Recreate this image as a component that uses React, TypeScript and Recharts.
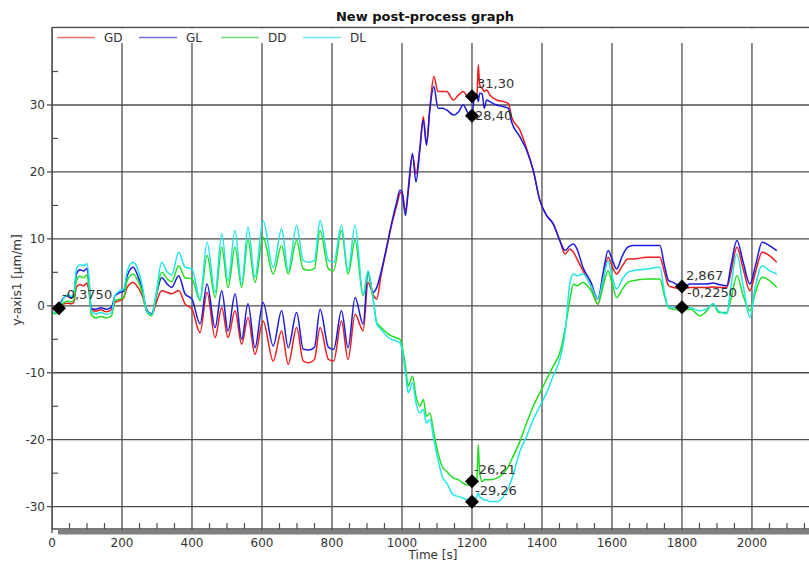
import React from 'react';
import { LineChart, Line, XAxis, YAxis, ReferenceLine, ReferenceDot } from 'recharts';

const times = [
  0, 10, 20, 30, 45, 55, 62, 70, 80, 90, 100, 106, 112, 125, 140, 155, 170, 180, 195,
  205, 215, 232, 245, 258, 270, 285, 298, 313, 330, 342, 362, 380, 400,
  423, 443, 466, 485, 503, 523, 542, 560, 580, 603, 632, 656, 675, 699, 718, 735, 750,
  766, 790, 805, 827, 846, 866, 889, 903, 917, 928, 940, 956, 970, 985, 994,
  1000, 1010, 1018, 1030, 1040, 1051, 1061, 1070, 1080, 1091, 1103, 1115, 1128, 1147,
  1162, 1175, 1189, 1200, 1208, 1214, 1218, 1222, 1229, 1235, 1242, 1251, 1271, 1290,
  1304, 1313, 1337, 1356, 1375, 1394, 1413, 1432, 1451, 1466, 1480, 1490, 1500, 1517,
  1540, 1560, 1575, 1589, 1600, 1613, 1630, 1645, 1660, 1700, 1737, 1750, 1762, 1775,
  1800, 1825, 1851, 1870, 1889, 1905, 1928, 1940, 1957, 1975, 1994, 2010, 2029, 2050, 2071,
];

const gd = [
  -0.5, -0.6, -0.375, 0.2, 0.4, 0.3, 0.5, 2.8, 3.2, 3.0, 3.4, 2.0, -0.5, -0.8, -0.6, -0.9, -0.5, 0.5, 0.8,
  1.2, 2.8, 3.5, 2.8, 1.5, -0.5, -1.3, 0.5, 2.25, 2.0, 1.8, 2.3, 0.3, -0.5,
  -4.0, 2.0, -4.75, -0.25, -4.75, -0.75, -5.75, -1.75, -7.25, -2.25, -8.25, -3.75, -8.75, -3.25, -8.25, -8.5, -8.0,
  -3.25, -8.0, -8.25, -2.25, -8.0, -1.25, -3.75, 3.5, 1.75, 1.0, 4.5, 8.5, 12.0, 15.0, 16.75,
  17.0, 14.25, 17.0, 22.5, 19.75, 23.5, 28.25, 24.3, 29.75, 34.25, 32.0, 32.0, 32.0, 30.75,
  31.5, 32.0, 31.25, 31.3, 31.3, 31.0, 36.0, 33.0, 32.5, 32.0, 32.25, 31.5, 30.75, 30.5,
  30.25, 28.25, 26.25, 23.5, 20.25, 15.75, 13.5, 12.25, 9.75, 7.75, 8.5, 8.0, 7.0, 5.25,
  3.0, 0.25, 4.0, 7.25, 6.0, 4.75, 6.0, 7.0, 7.0, 7.25, 7.25, 5.0, 3.0, 2.75,
  2.6, 2.75, 2.75, 2.75, 2.8, 2.75, 2.75, 5.0, 8.75, 5.5, 2.25, 5.0, 8.0, 7.5, 6.5,
];

const gl = [
  -0.3, -0.4, -0.2, 1.0, 1.5, 1.2, 1.5, 4.8, 5.4, 5.2, 5.6, 3.5, -0.4, -0.5, -0.3, -0.5, -0.2, 1.5, 2.0,
  2.2, 4.5, 5.75, 4.5, 2.5, -0.5, -1.2, 1.5, 4.2, 3.2, 2.75, 4.5, 1.8, 1.0,
  -2.7, 3.25, -3.25, 2.25, -3.75, 1.75, -5.0, 0.3, -6.25, 0.5, -6.0, -0.75, -6.25, -1.0, -6.5, -6.6, -6.2,
  -0.5, -6.2, -6.5, -0.75, -6.25, 1.25, -2.75, 5.0, 2.0, 2.75, 5.0, 8.75, 12.25, 15.5, 17.25,
  17.0, 13.5, 17.5, 22.75, 18.5, 23.25, 27.75, 24.0, 29.5, 32.75, 29.5, 29.5, 29.25, 28.5,
  29.0, 30.0, 28.75, 28.4, 31.75, 31.5, 30.5, 31.75, 31.7, 29.5, 30.75, 30.5, 30.0, 29.75,
  29.5, 27.5, 25.25, 23.25, 20.25, 15.75, 13.5, 12.25, 9.75, 8.25, 9.0, 9.25, 8.5, 5.75,
  3.5, 1.0, 5.0, 8.25, 7.0, 5.5, 7.5, 8.75, 9.0, 9.0, 9.0, 6.0, 3.75, 3.5,
  2.867, 3.25, 3.25, 3.25, 3.4, 3.2, 3.0, 6.0, 9.75, 6.5, 3.25, 6.0, 9.5, 9.0, 8.25,
];

const dd = [
  -1.0, -1.2, -0.9, 0.3, 0.7, 0.6, 0.8, 3.8, 4.4, 4.2, 4.6, 2.5, -1.3, -1.8, -1.6, -1.8, -1.5, 0.8, 1.0,
  1.3, 3.8, 4.75, 3.8, 2.0, -0.8, -1.5, 1.5, 5.0, 4.0, 3.6, 6.0, 4.2, 4.0,
  0.8, 7.5, 1.25, 8.75, 2.75, 8.75, 2.75, 9.75, 3.5, 10.25, 4.75, 9.0, 4.75, 9.75, 5.5, 5.3, 5.6,
  11.25, 5.5, 5.25, 11.25, 4.75, 9.75, 1.5, 4.75, 1.25, -2.5, -3.2, -4.0, -4.5, -4.8, -5.0,
  -6.0, -9.0, -12.0, -10.5, -13.5, -15.0, -14.0, -16.5, -16.0, -19.0, -22.0, -24.0, -24.75, -25.75,
  -26.0, -26.5, -26.8, -26.21, -26.5, -26.0, -20.75, -25.0, -26.25, -26.0, -26.0, -26.0, -25.75, -25.0,
  -24.0, -23.0, -20.25, -17.5, -15.0, -13.0, -11.0, -9.0, -7.0, -3.5, 1.0, 3.25, 3.0, 3.5,
  2.3, 0.3, 3.0, 5.25, 3.5, 1.25, 2.5, 3.5, 3.75, 4.0, 4.0, 1.5, -0.3, -0.5,
  -0.6, -0.5, -1.5, -0.8, 0.3, -1.0, -1.0, 1.0, 4.5, 1.5, -0.75, 2.0, 4.25, 3.75, 2.75,
];

const dl = [
  -0.8, -1.0, -0.6, 0.8, 1.7, 1.4, 1.8, 5.6, 6.1, 6.0, 6.3, 4.0, -0.8, -1.2, -1.0, -1.3, -1.0, 1.5, 2.3,
  2.5, 5.2, 6.5, 5.5, 3.0, -0.6, -1.3, 2.0, 6.5, 5.0, 4.6, 8.0, 5.8, 5.5,
  1.0, 9.5, 2.0, 10.75, 3.75, 11.25, 3.25, 11.75, 4.25, 12.75, 5.75, 11.5, 5.25, 12.0, 6.75, 6.5, 6.8,
  12.75, 6.8, 6.5, 12.0, 5.25, 12.0, 1.75, 5.25, 1.25, -2.75, -3.5, -4.5, -5.0, -5.3, -5.5,
  -6.5, -10.0, -13.0, -11.5, -14.5, -16.0, -15.5, -17.5, -17.0, -20.0, -23.0, -25.5, -26.5, -28.25,
  -28.5, -28.75, -29.0, -29.26, -29.0, -28.5, -28.0, -28.5, -28.75, -29.0, -29.0, -29.25, -29.25, -28.5,
  -27.25, -26.0, -21.75, -19.5, -17.0, -15.0, -13.0, -10.5, -8.0, -4.0, 3.5, 4.75, 4.5, 4.75,
  3.0, 1.0, 4.0, 6.75, 4.5, 2.5, 4.0, 5.0, 5.25, 5.5, 5.75, 2.0, -0.2, -0.25,
  -0.225, -0.3, -0.75, -0.5, 0.3, -0.8, -1.2, 3.0, 7.75, 3.0, -1.75, 3.0, 6.0, 5.25, 4.75,
];

const seriesNames = ['GD', 'GL', 'DD', 'DL'];
const seriesColors = ['#ee1c1c', '#1a1ae0', '#22dd22', '#22e6e6'];
const legendColors = ['#f07070', '#7070e0', '#70e070', '#70eaea'];

const xMajorTicks = [0, 200, 400, 600, 800, 1000, 1200, 1400, 1600, 1800, 2000];
const xMinorTicks = [50, 100, 150, 250, 300, 350, 450, 500, 550, 650, 700, 750, 850, 900, 950,
  1050, 1100, 1150, 1250, 1300, 1350, 1450, 1500, 1550, 1650, 1700, 1750, 1850, 1900, 1950, 2050, 2100, 2150];
const yMajorTicks = [-30, -20, -10, 0, 10, 20, 30];
const yMinorTicks = [-25, -15, -5, 5, 15, 25, 35];

const markerTimes = [20, 1200, 1200, 1200, 1200, 1800, 1800];
const markerValues = [-0.375, 31.30, 28.40, -26.21, -29.26, 2.867, -0.225];
const markerTexts = ['-0,3750', '31,30', '28,40', '-26,21', '-29,26', '2,867', '-0,2250'];

const title = 'New post-process graph';
const xLabel = 'Time [s]';
const yLabel = 'y-axis1 [µm/m]';

// label offsets (style only)
const markerLabelOffsets = [
  [3, -9], [5, -8], [3, 4], [2, -7], [3, -7], [4, -7], [5, -10],
];

const X_DOMAIN: [number, number] = [0, 2163];
const Y_DOMAIN: [number, number] = [-33.34, 41.65];
const FONT = '"DejaVu Sans", Verdana, sans-serif';
const GRID = '#4d4d4d';

const data = times.map((t, i) => ({ t, GD: gd[i], GL: gl[i], DD: dd[i], DL: dl[i] }));
const xTicks = [...xMajorTicks, ...xMinorTicks].sort((a, b) => a - b);
const yTicks = [...yMajorTicks, ...yMinorTicks].sort((a, b) => a - b);

const XTick = (props: any) => {
  const { x, y, payload } = props;
  const v = payload.value;
  if (xMajorTicks.includes(v)) {
    return (
      <g>
        <line x1={x} x2={x} y1={y} y2={y + 4} stroke={GRID} strokeWidth={1.3} />
        <text x={x} y={y + 18} textAnchor="middle" fontSize={12} fill="#333" fontFamily={FONT}>{v}</text>
      </g>
    );
  }
  return <line x1={x} x2={x} y1={y} y2={y - 6} stroke={GRID} strokeWidth={1.2} />;
};

const YTick = (props: any) => {
  const { x, y, payload } = props;
  const v = payload.value;
  if (yMajorTicks.includes(v)) {
    return (
      <g>
        <line x1={x - 5} x2={x} y1={y} y2={y} stroke={GRID} strokeWidth={1.3} />
        <text x={x - 7} y={y} dy={4.2} textAnchor="end" fontSize={12} fill="#333" fontFamily={FONT}>{v}</text>
      </g>
    );
  }
  return <line x1={x} x2={x + 6} y1={y} y2={y} stroke={GRID} strokeWidth={1.2} />;
};

const makeMarker = (i: number) => (props: any) => {
  const { cx, cy } = props;
  const [dx, dy] = markerLabelOffsets[i];
  const s = 7;
  return (
    <g>
      <path d={`M${cx},${cy - s} L${cx + s},${cy} L${cx},${cy + s} L${cx - s},${cy} Z`} fill="#000" />
      <text x={cx + dx} y={cy + dy} fontSize={13} fill="#333" fontFamily={FONT}>{markerTexts[i]}</text>
    </g>
  );
};

export default function App() {
  return (
    <div style={{ position: 'absolute', left: 0, top: 0, width: 809, height: 562, background: '#fff', fontFamily: FONT }}>
      <LineChart width={809} height={562} data={data} margin={{ top: 27, right: 0, bottom: 0, left: 0 }}>
        {xMajorTicks.map((t) => (
          <ReferenceLine key={'gx' + t} x={t} stroke={GRID} strokeWidth={1.3} ifOverflow="hidden" />
        ))}
        {yMajorTicks.map((v) => (
          <ReferenceLine key={'gy' + v} y={v} stroke={GRID} strokeWidth={1.3} ifOverflow="hidden" />
        ))}
        <XAxis
          dataKey="t"
          type="number"
          domain={X_DOMAIN}
          allowDataOverflow
          ticks={xTicks}
          interval={0}
          tick={<XTick />}
          tickLine={false}
          tickSize={0}
          tickMargin={0}
          height={33}
          axisLine={{ stroke: GRID, strokeWidth: 1.5 }}
        />
        <YAxis
          type="number"
          domain={Y_DOMAIN}
          allowDataOverflow
          ticks={yTicks}
          interval={0}
          tick={<YTick />}
          tickLine={false}
          tickSize={0}
          tickMargin={0}
          width={52}
          axisLine={{ stroke: GRID, strokeWidth: 1.5 }}
        />
        {seriesNames.map((name, i) => (
          <Line
            key={name}
            type="monotone"
            dataKey={name}
            stroke={seriesColors[i]}
            strokeWidth={1.5}
            dot={false}
            isAnimationActive={false}
          />
        ))}
        {markerTimes.map((t, i) => (
          <ReferenceDot key={'m' + i} x={t} y={markerValues[i]} r={7} shape={makeMarker(i)} />
        ))}
      </LineChart>
      <svg width={809} height={562} style={{ position: 'absolute', left: 0, top: 0, pointerEvents: 'none' }}>
        <text x={425} y={21} textAnchor="middle" fontSize={13} fontWeight="bold" fill="#111" fontFamily={FONT}>{title}</text>
        <line x1={52} x2={809} y1={27.5} y2={27.5} stroke={GRID} strokeWidth={1.5} />
        <rect x={53} y={28.5} width={756} height={14.5} fill="#fff" />
        {seriesNames.map((name, i) => (
          <g key={'lg' + name}>
            <line x1={57 + i * 82} x2={95 + i * 82} y1={37.5} y2={37.5} stroke={legendColors[i]} strokeWidth={1.5} />
            <text x={104 + i * 82} y={41.5} fontSize={12} fill="#333" fontFamily={FONT}>{name}</text>
          </g>
        ))}
        <rect x={58} y={530} width={751} height={4.5} fill="#808080" />
        <text x={433} y={559} textAnchor="middle" fontSize={12} fill="#333" fontFamily={FONT}>{xLabel}</text>
        <text x={0} y={0} transform="translate(17,280) rotate(-90)" textAnchor="middle" dy={4} fontSize={12} fill="#333" fontFamily={FONT}>{yLabel}</text>
      </svg>
    </div>
  );
}
